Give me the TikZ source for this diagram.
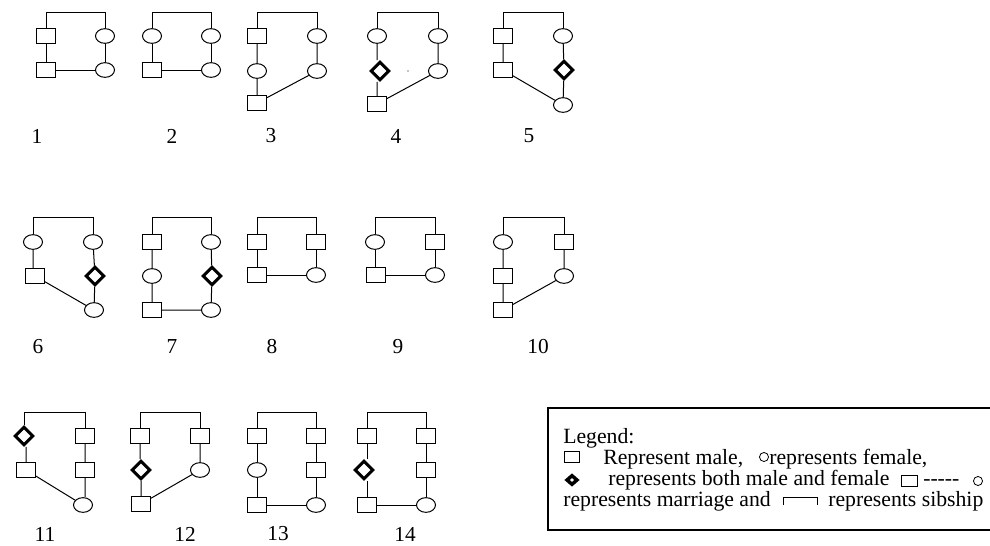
\documentclass[tikz,border=0pt]{standalone}
\usepackage{fontspec}
\setmainfont{Liberation Serif}
\usetikzlibrary{shapes.geometric}

% connector from a node up to a sibship bar, across, and down to the other node
\newcommand\sibship[3]{\draw[link] (#1) -- (#1 |- #3) -- (#2 |- #3) -- (#2);}

\tikzset{
  link/.style={line width=0.75pt},
  male/.style={draw, line width=0.75pt, rectangle, minimum width=14.25pt,
    minimum height=10.9pt, inner sep=0pt},
  female/.style={draw, line width=0.75pt, ellipse, minimum width=14.25pt,
    minimum height=11pt, inner sep=0pt},
  both/.style={draw, line width=2.3pt, diamond, minimum width=14pt,
    minimum height=14pt, inner sep=0pt},
  num/.style={font=\fontsize{16}{16}\selectfont, inner sep=0pt},
  txt/.style={font=\fontsize{16.3}{16}\selectfont, inner sep=0pt, anchor=base west},
  keymale/.style={draw, line width=0.7pt, rectangle, minimum width=11.5pt,
    minimum height=8.25pt, inner sep=0pt},
  keyfemale/.style={draw, line width=0.6pt, circle, minimum size=6.8pt, inner sep=0pt},
  keyboth/.style={draw, line width=2.6pt, diamond, minimum width=8.5pt,
    minimum height=7.5pt, inner sep=0pt},
}

\begin{document}
\begin{tikzpicture}[x={(0.75pt,0)}, y={(0,-0.75pt)}]
\useasboundingbox (0,0) rectangle (990,546);

% heights of the sibship bars of the three rows
\coordinate (barA) at (0,12);
\coordinate (barB) at (0,217);
\coordinate (barC) at (0,412);

% ---------- pedigree 1 ----------
\node[male]   (p1l1) at (46,36) {};
\node[male]   (p1l2) at (46,70) {};
\node[female] (p1r1) at (105,36) {};
\node[female] (p1r2) at (105,70) {};
\sibship{p1l1}{p1r1}{barA}
\draw[link] (p1l1) -- (p1l2) (p1r1) -- (p1r2) (p1l2) -- (p1r2);
\node[num] (n1) at (37,136) {1};

% ---------- pedigree 2 ----------
\node[female] (p2l1) at (152,36) {};
\node[male]   (p2l2) at (152,70) {};
\node[female] (p2r1) at (211,36) {};
\node[female] (p2r2) at (211,70) {};
\sibship{p2l1}{p2r1}{barA}
\draw[link] (p2l1) -- (p2l2) (p2r1) -- (p2r2) (p2l2) -- (p2r2);
\node[num] (n2) at (172,136) {2};

% ---------- pedigree 3 ----------
\node[male]   (p3l1) at (257,36) {};
\node[female] (p3l2) at (257,71) {};
\node[male]   (p3l3) at (257,103) {};
\node[female] (p3r1) at (317,36) {};
\node[female] (p3r2) at (317,71) {};
\sibship{p3l1}{p3r1}{barA}
\draw[link] (p3l1) -- (p3l2) -- (p3l3) (p3r1) -- (p3r2) (p3l3) -- (p3r2);
\node[num] (n3) at (271,136) {3};

% ---------- pedigree 4 ----------
\node[female] (p4l1) at (377,36) {};
\node[both]   (p4l2) at (380,71) {};
\node[male]   (p4l3) at (377,104) {};
\node[female] (p4r1) at (438,36) {};
\node[female] (p4r2) at (438,71) {};
\sibship{p4l1}{p4r1}{barA}
\draw[link] (p4l1) -- (p4l1 |- p4l2.north) (p4l3) -- (p4l3 |- p4l2.south)
  (p4r1) -- (p4r2) (p4l3) -- (p4r2);
\fill (408,71) circle (0.55pt);
\node[num] (n4) at (396,136) {4};

% ---------- pedigree 5 ----------
\node[male]   (p5l1) at (503,36) {};
\node[male]   (p5l2) at (503,70) {};
\node[female] (p5r1) at (563,36) {};
\node[both]   (p5r2) at (564,70) {};
\node[female] (p5r3) at (563,105) {};
\sibship{p5l1}{p5r1}{barA}
\draw[link] (p5l1) -- (p5l2) (p5r1) -- (p5r2) -- (p5r3) (p5l2) -- (p5r3);
\node[num] (n5) at (529,136) {5};

% ---------- pedigree 6 ----------
\node[female] (p6l1) at (33,242) {};
\node[male]   (p6l2) at (35,276) {};
\node[female] (p6r1) at (93,242) {};
\node[both]   (p6r2) at (95,276) {};
\node[female] (p6r3) at (94,310) {};
\sibship{p6l1}{p6r1}{barB}
\draw[link] (p6l1) -- (p6l1 |- p6l2.north) (p6r1) -- (p6r2) -- (p6r3) (p6l2) -- (p6r3);
\node[num] (n6) at (38,347) {6};

% ---------- pedigree 7 ----------
\node[male]   (p7l1) at (152,242) {};
\node[female] (p7l2) at (152,276) {};
\node[male]   (p7l3) at (152,310) {};
\node[female] (p7r1) at (211,242) {};
\node[both]   (p7r2) at (212,276) {};
\node[female] (p7r3) at (211,310) {};
\sibship{p7l1}{p7r1}{barB}
\draw[link] (p7l1) -- (p7l2) -- (p7l3) (p7r1) -- (p7r2) -- (p7r3) (p7l3) -- (p7r3);
\node[num] (n7) at (172,347) {7};

% ---------- pedigree 8 ----------
\node[male]   (p8l1) at (257,242) {};
\node[male]   (p8l2) at (257,275) {};
\node[male]   (p8r1) at (316,242) {};
\node[female] (p8r2) at (316,275) {};
\sibship{p8l1}{p8r1}{barB}
\draw[link] (p8l1) -- (p8l2) (p8r1) -- (p8r2) (p8l2) -- (p8r2);
\node[num] (n8) at (272,347) {8};

% ---------- pedigree 9 ----------
\node[female] (p9l1) at (375,242) {};
\node[male]   (p9l2) at (376,275) {};
\node[male]   (p9r1) at (435,242) {};
\node[female] (p9r2) at (435,275) {};
\sibship{p9l1}{p9r1}{barB}
\draw[link] (p9l1) -- (p9l1 |- p9l2.north) (p9r1) -- (p9r2) (p9l2) -- (p9r2);
\node[num] (n9) at (398,347) {9};

% ---------- pedigree 10 ----------
\node[female] (p10l1) at (503,242) {};
\node[male]   (p10l2) at (503,276) {};
\node[male]   (p10l3) at (503,310) {};
\node[male]   (p10r1) at (564,242) {};
\node[female] (p10r2) at (564,276) {};
\sibship{p10l1}{p10r1}{barB}
\draw[link] (p10l1) -- (p10l2) -- (p10l3) (p10r1) -- (p10r2) (p10l3) -- (p10r2);
\node[num] (n10) at (538,347) {10};

% ---------- pedigree 11 ----------
\node[both]   (p11l1) at (24,436) {};
\node[male]   (p11l2) at (26,470) {};
\node[male]   (p11r1) at (85,436) {};
\node[male]   (p11r2) at (85,470) {};
\node[female] (p11r3) at (83,505) {};
\sibship{p11l1}{p11r1}{barC}
\draw[link] (p11l2) -- (p11l2 |- p11l1.south) (p11r1) -- (p11r2) -- (p11r2 |- p11r3.north)
  (p11l2) -- (p11r3);
\node[num] (n11) at (45,534) {11};

% ---------- pedigree 12 ----------
\node[male]   (p12l1) at (140,436) {};
\node[both]   (p12l2) at (141,470) {};
\node[male]   (p12l3) at (141,504) {};
\node[male]   (p12r1) at (200,436) {};
\node[female] (p12r2) at (200,470) {};
\sibship{p12l1}{p12r1}{barC}
\draw[link] (p12l1) -- (p12l1 |- p12l2.north) (p12l3) -- (p12l3 |- p12l2.south)
  (p12r1) -- (p12r2) (p12l3) -- (p12r2);
\node[num] (n12) at (185,534) {12};

% ---------- pedigree 13 ----------
\node[male]   (p13l1) at (257,436) {};
\node[female] (p13l2) at (257,470) {};
\node[male]   (p13l3) at (257,505) {};
\node[male]   (p13r1) at (316,436) {};
\node[male]   (p13r2) at (316,470) {};
\node[female] (p13r3) at (316,505) {};
\sibship{p13l1}{p13r1}{barC}
\draw[link] (p13l1) -- (p13l2) -- (p13l3) (p13r1) -- (p13r2) -- (p13r3) (p13l3) -- (p13r3);
\node[num] (n13) at (278,534) {13};

% ---------- pedigree 14 ----------
\node[male]   (p14l1) at (367,436) {};
\node[both]   (p14l2) at (364,470) {};
\node[male]   (p14l3) at (367,505) {};
\node[male]   (p14r1) at (426,436) {};
\node[male]   (p14r2) at (426,470) {};
\node[female] (p14r3) at (426,505) {};
\sibship{p14l1}{p14r1}{barC}
\draw[link] (p14l1) -- (p14l1 |- p14l2.north) (p14l3) -- (p14l3 |- p14l2.south)
  (p14r1) -- (p14r2) -- (p14r3) (p14l3) -- (p14r3);
\node[num] (n14) at (405,534) {14};

% ---------- key (its right side runs past the page edge) ----------
\coordinate (keyA) at (548,408);
\coordinate (keyB) at (995,530);
\draw[line width=0.8pt] (keyA) rectangle (keyB);

\node[txt] (k0) at (563,443) {Legend:};

\node[keymale] (k1s) at (572,456.5) {};
\node[txt] (k1a) at (603,464) {Represent male,};
\node[keyfemale] (k1c) at (764,457) {};
\node[txt] (k1b) at (769,464) {represents female,};

\node[keyboth] (k2d) at (572,480) {};
\node[txt] (k2a) at (608,485) {represents both male and female};
\node[keymale] (k2s) at (909.5,481) {};
\node[txt] (k2b) at (923,485) {-{}-{}-{}-{}-};
\node[keyfemale] (k2c) at (978,481) {};

\node[txt] (k3a) at (563,506) {represents marriage and};
\coordinate (k3l) at (783,505);
\coordinate (k3r) at (817,505);
\draw[line width=0.7pt] (k3l) -- ++(0,-8) -| (k3r);
\node[txt] (k3b) at (828,506) {represents sibship};
\end{tikzpicture}
\end{document}
